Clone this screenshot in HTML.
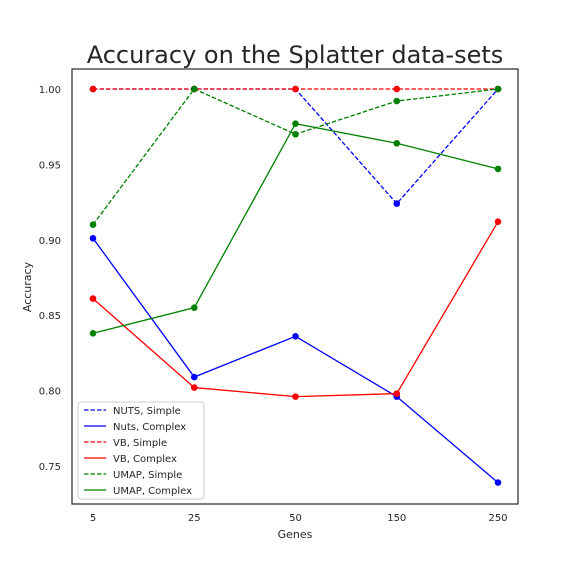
<!DOCTYPE html>
<html><head><meta charset="utf-8"><style>
body{margin:0;background:#fff;font-family:"Liberation Sans","DejaVu Sans",sans-serif}
svg text{font-family:"DejaVu Sans","Liberation Sans",sans-serif}
</style></head><body>
<svg id="chart" width="576" height="576" xmlns="http://www.w3.org/2000/svg"></svg>
<script>
const categories=["5","25","50","150","250"];
const yTicks=[0.75,0.80,0.85,0.90,0.95,1.00];
const nutsSimple=[1.0,1.0,1.0,0.924,1.0];
const nutsComplex=[0.901,0.809,0.836,0.796,0.739];
const vbSimple=[1.0,1.0,1.0,1.0,1.0];
const vbComplex=[0.861,0.802,0.796,0.798,0.912];
const umapSimple=[0.910,1.0,0.970,0.992,1.0];
const umapComplex=[0.838,0.855,0.977,0.964,0.947];
const seriesNames=["NUTS, Simple","Nuts, Complex","VB, Simple","VB, Complex","UMAP, Simple","UMAP, Complex"];

const svg=document.getElementById('chart');
const NS="http://www.w3.org/2000/svg";
const L=72,R=518,T=69,B=504;
function xs(i){return 93+i*(498-93)/(categories.length-1);}
function ys(v){return 89+(1.0-v)/0.05*75.4;}
function mk(tag,attrs,parent){const e=document.createElementNS(NS,tag);for(const k in attrs)e.setAttribute(k,attrs[k]);(parent||svg).appendChild(e);return e;}

const title=mk('text',{x:295,y:63,'text-anchor':'middle','font-size':24,fill:'#262626'});
title.textContent="Accuracy on the Splatter data-sets";



const frame=mk('rect',{x:L,y:T,width:R-L,height:B-T,fill:'none',stroke:'#262626','stroke-width':1.2});



yTicks.forEach(v=>{
  const t=mk('text',{x:L-11,y:ys(v)+4,'text-anchor':'end','font-size':10,fill:'#262626'});
  t.textContent=v.toFixed(2);
  
  
});
categories.forEach((c,i)=>{
  const t=mk('text',{x:xs(i),y:B+17,'text-anchor':'middle','font-size':10,fill:'#262626'});
  t.textContent=c;
  
  
});
const xt=mk('text',{x:295,y:538,'text-anchor':'middle','font-size':11,fill:'#262626'});
xt.textContent="Genes";


const yt=mk('text',{x:31,y:287,'text-anchor':'middle','font-size':11,fill:'#262626',transform:'rotate(-90 31 287)'});
yt.textContent="Accuracy";



const series=[[nutsSimple,'#0000ff',true],[nutsComplex,'#0000ff',false],[vbSimple,'#ff0000',true],[vbComplex,'#ff0000',false],[umapSimple,'#008000',true],[umapComplex,'#008000',false]];
const drawOrder=[1,0,3,2,5,4];
drawOrder.forEach(si=>{
  const [vals,col,dash]=series[si];
  const g=mk('g',{});
  
  
  const pts=vals.map((v,i)=>xs(i)+','+ys(v)).join(' ');
  const pl=mk('polyline',{points:pts,fill:'none',stroke:col,'stroke-width':1.3,'stroke-dasharray':dash?'4.5,2':'none'},g);
  
  
  vals.forEach((v,i)=>{
    const c=mk('circle',{cx:xs(i),cy:ys(v),r:3.3,fill:col},g);
    
    
  });
});

const lg=mk('g',{});


mk('rect',{x:78,y:402,width:126,height:97,rx:3,fill:'#fff',stroke:'#ccc','stroke-width':1},lg);
seriesNames.forEach((n,i)=>{
  const [vals,col,dash]=series[i];
  const y=410+i*16;
  const e=mk('g',{},lg);
  
  
  mk('line',{x1:84,y1:y,x2:106,y2:y,stroke:col,'stroke-width':1.3,'stroke-dasharray':dash?'4.5,2':'none'},e);
  const t=mk('text',{x:113,y:y+4,'font-size':10,fill:'#262626'},e);
  t.textContent=n;
});
</script>
</body></html>
